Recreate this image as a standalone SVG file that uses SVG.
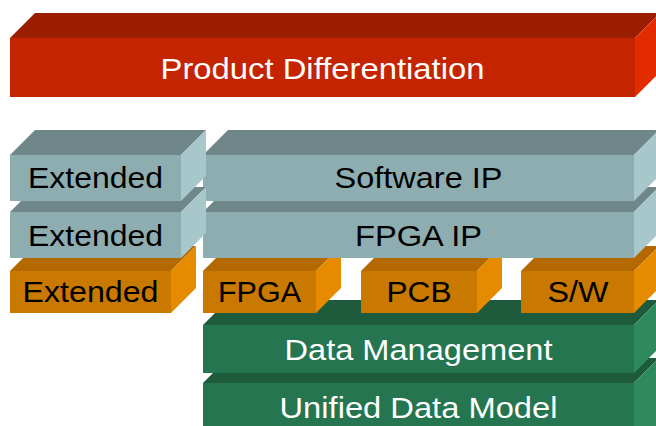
<svg xmlns="http://www.w3.org/2000/svg" width="656" height="426" viewBox="0 0 656 426">
<style>
.rt{fill:#9B1E00}.rf{fill:#C42400}.rr{fill:#E32B00}
.tt{fill:#6F8789}.tf{fill:#8EADB0}.tr{fill:#A7C7CA}
.ot{fill:#B46800}.of{fill:#C97800}.or{fill:#E68A00}
.gt{fill:#1E5A3C}.gf{fill:#247550}.gr{fill:#2E8A5D}
text{font-family:"Liberation Sans",Arial,sans-serif;font-size:29px;text-anchor:middle}
.w{fill:#FFFFFF}.b{fill:#000000}
</style>
<rect width="656" height="426" fill="#FFFFFF"/>
<g id="connectors"></g>
<g id="unified-data-model">
<polygon class="gt" points="203,383 228,358 659,358 634,383"/>
<rect class="gf" x="203" y="383" width="431" height="50"/>
<polygon class="gr" points="634,383 659,358 659,430 634,430"/>
<text class="w" x="418.5" y="418" textLength="278" lengthAdjust="spacingAndGlyphs">Unified Data Model</text>
</g>
<g id="data-management">
<polygon class="gt" points="203,325 228,300 659,300 634,325"/>
<rect class="gf" x="203" y="325" width="431" height="48"/>
<polygon class="gr" points="634,325 659,300 659,348 634,373"/>
<text class="w" x="418.5" y="360" textLength="268" lengthAdjust="spacingAndGlyphs">Data Management</text>
</g>
<g id="fpga">
<polygon class="ot" points="203,271 228,246 341,246 316,271"/>
<rect class="of" x="203" y="271" width="113" height="42"/>
<polygon class="or" points="316,271 341,246 341,288 316,313"/>
<text class="b" x="259.5" y="302" textLength="83" lengthAdjust="spacingAndGlyphs">FPGA</text>
</g>
<g id="pcb">
<polygon class="ot" points="361,271 386,246 502,246 477,271"/>
<rect class="of" x="361" y="271" width="116" height="42"/>
<polygon class="or" points="477,271 502,246 502,288 477,313"/>
<text class="b" x="419" y="302" textLength="65" lengthAdjust="spacingAndGlyphs">PCB</text>
</g>
<g id="sw">
<polygon class="ot" points="521,271 546,246 659,246 634,271"/>
<rect class="of" x="521" y="271" width="113" height="42"/>
<polygon class="or" points="634,271 659,246 659,288 634,313"/>
<text class="b" x="578" y="302" textLength="61" lengthAdjust="spacingAndGlyphs">S/W</text>
</g>
<g id="extended-3">
<polygon class="ot" points="10,271 35,246 196,246 171,271"/>
<rect class="of" x="10" y="271" width="161" height="42"/>
<polygon class="or" points="171,271 196,246 196,288 171,313"/>
<text class="b" x="90.5" y="302" textLength="136" lengthAdjust="spacingAndGlyphs">Extended</text>
</g>
<g id="fpga-ip">
<polygon class="tt" points="203,212 228,187 659,187 634,212"/>
<rect class="tf" x="203" y="212" width="431" height="46"/>
<polygon class="tr" points="634,212 659,187 659,233 634,258"/>
<text class="b" x="418.5" y="246" textLength="127" lengthAdjust="spacingAndGlyphs">FPGA IP</text>
</g>
<g id="software-ip">
<polygon class="tt" points="203,155 228,130 659,130 634,155"/>
<rect class="tf" x="203" y="155" width="431" height="46"/>
<polygon class="tr" points="634,155 659,130 659,176 634,201"/>
<text class="b" x="418.5" y="188" textLength="168" lengthAdjust="spacingAndGlyphs">Software IP</text>
</g>
<g id="extended-2">
<polygon class="tt" points="10,212 35,187 206,187 181,212"/>
<rect class="tf" x="10" y="212" width="171" height="46"/>
<polygon class="tr" points="181,212 206,187 206,233 181,258"/>
<text class="b" x="95.5" y="246" textLength="135" lengthAdjust="spacingAndGlyphs">Extended</text>
</g>
<g id="extended-1">
<polygon class="tt" points="10,155 35,130 206,130 181,155"/>
<rect class="tf" x="10" y="155" width="171" height="46"/>
<polygon class="tr" points="181,155 206,130 206,176 181,201"/>
<text class="b" x="95.5" y="188" textLength="135" lengthAdjust="spacingAndGlyphs">Extended</text>
</g>
<g id="product-differentiation">
<polygon class="rt" points="10,38 35,13 660,13 635,38"/>
<rect class="rf" x="10" y="38" width="625" height="59"/>
<polygon class="rr" points="635,38 660,13 660,72 635,97"/>
<text class="w" x="322.5" y="79" textLength="324" lengthAdjust="spacingAndGlyphs">Product Differentiation</text>
</g>
</svg>
